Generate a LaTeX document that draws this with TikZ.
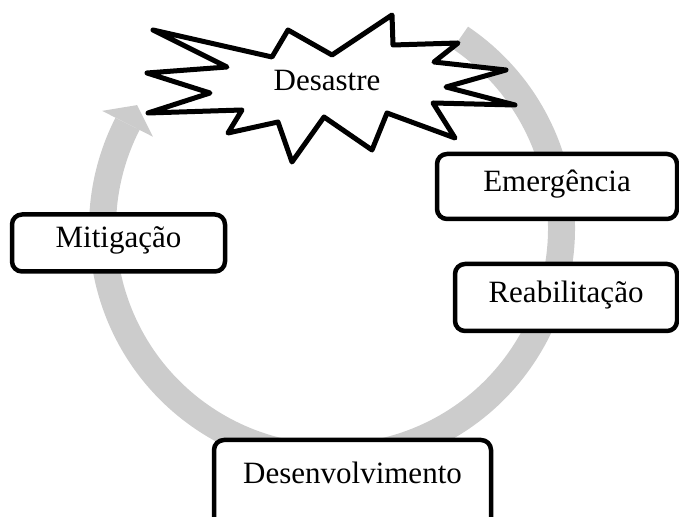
\documentclass[tikz,border=0pt]{standalone}
\usepackage{fontspec}
\setmainfont{Liberation Serif}
\usetikzlibrary{calc}

\tikzset{
  phase/.style={draw, fill=white, line width=2.25pt, rounded corners=5pt,
    font=\fontsize{15.5}{18}\selectfont, text height=0.7em, text depth=0.2em,
    inner sep=0pt},
  cyclearrow/.style={draw=black!20, line width=13.5pt},
  burst/.style={draw, fill=white, line width=2.5pt, line join=round}
}

\begin{document}
\begin{tikzpicture}[x=0.5pt, y=-0.5pt]

\useasboundingbox (0,0) rectangle (679,517);

% Grey cycle arrow
\coordinate (hub) at (332,228);
\draw [cyclearrow] ($(hub)+(-56:229.5)$) arc [start angle=-56, end angle=207, radius=229.5];
\fill [black!20] ($(hub)+(207:258)$) -- ($(hub)+(207:229.5)+(297:21)$) -- ($(hub)+(207:201)$) -- cycle;

% Disaster burst
\draw [burst] (153,30) -- (272,57) -- (288,30) -- (332,55) -- (392,15) -- (393,45)
    -- (458,43) -- (434,62) -- (506,70) -- (446,87) -- (515,105) -- (433,103)
    -- (455,138) -- (387,113) -- (372,150) -- (324,117) -- (292,162) -- (278,122)
    -- (228,133) -- (242,110) -- (148,113) -- (210,93) -- (147,73) -- (227,67) -- cycle;
    \node [font=\fontsize{15.5}{18}\selectfont, text height=0.7em, text depth=0.2em, inner sep=0pt]
        (desastre) at (327,85.5) {Desastre};

% Phases
\node [phase, minimum width=106.5pt, minimum height=28.5pt] (mitigacao) at (118.5,243) {Mitigação};
\node [phase, minimum width=120pt, minimum height=32.5pt] (emergencia) at (557,186.5) {Emergência};
\node [phase, minimum width=111pt, minimum height=33.5pt] (reabilitacao) at (566,297.5) {Reabilitação};
\node [phase, minimum width=138.5pt, minimum height=44pt, text depth=7.85pt] (desenvolvimento) at (352.5,484) {Desenvolvimento};

\end{tikzpicture}
\end{document}
